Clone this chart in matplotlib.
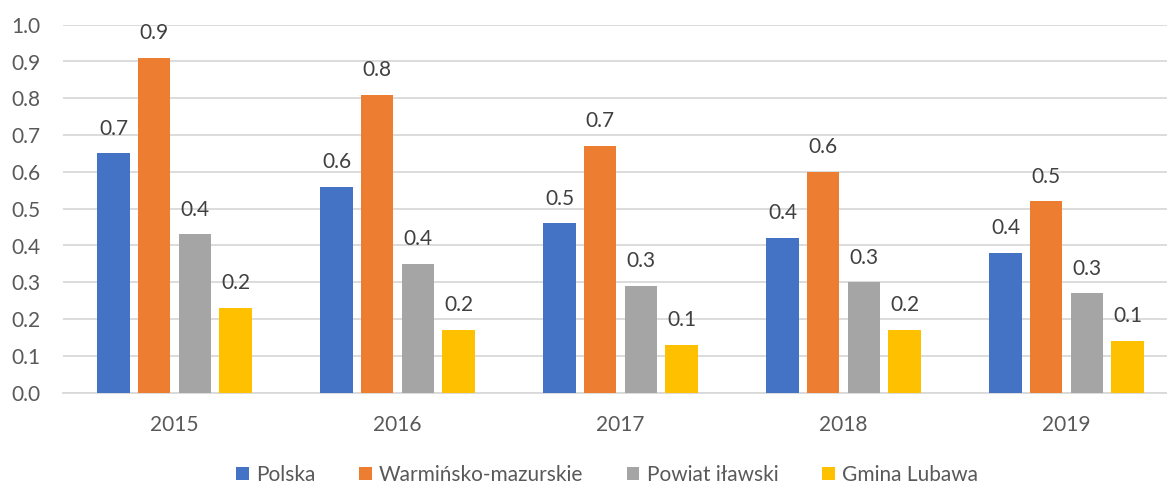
import numpy as np
import matplotlib
matplotlib.use("Agg")
from matplotlib import pyplot as plt

# data
years = ["2015", "2016", "2017", "2018", "2019"]
series_names = ["Polska", "Warmińsko-mazurskie", "Powiat iławski", "Gmina Lubawa"]
polska = [0.65, 0.56, 0.46, 0.42, 0.38]
warminsko = [0.91, 0.81, 0.67, 0.60, 0.52]
powiat = [0.43, 0.35, 0.29, 0.30, 0.27]
gmina = [0.23, 0.17, 0.13, 0.17, 0.14]
# labels as shown on the chart (rounded to one decimal)
polska_lbl = ["0.7", "0.6", "0.5", "0.4", "0.4"]
warminsko_lbl = ["0.9", "0.8", "0.7", "0.6", "0.5"]
powiat_lbl = ["0.4", "0.4", "0.3", "0.3", "0.3"]
gmina_lbl = ["0.2", "0.2", "0.1", "0.2", "0.1"]

colors = ["#4472C4", "#ED7D31", "#A5A5A5", "#FFC000"]
text_col = "#595959"
grid_col = "#D9D9D9"
fs = 15

plt.rcParams['font.family'] = ['Lato', 'DejaVu Sans']

W, H = 1167, 486
fig = plt.figure(figsize=(W / 100, H / 100), dpi=100)
ax = fig.add_axes([63 / W, (H - 392.7) / H, 1115 / W, 368 / H])

x = np.arange(len(years))
width = 0.145
step = 0.1825
all_vals = [polska, warminsko, powiat, gmina]
all_lbls = [polska_lbl, warminsko_lbl, powiat_lbl, gmina_lbl]

for i, (vals, lbls) in enumerate(zip(all_vals, all_lbls)):
    pos = x + (i - 1.5) * step
    ax.bar(pos, vals, width, color=colors[i], label=series_names[i], zorder=3)
    for px, v, t in zip(pos, vals, lbls):
        ax.annotate(t, (px, v), xytext=(0, 13.5), textcoords='offset points',
                    ha='center', va='baseline', fontsize=fs, color='#404040')

ax.set_xlim(-0.5, 4.5)
ax.set_ylim(0, 1.0)
ax.set_yticks(np.arange(0, 1.01, 0.1))
ax.set_yticklabels([f"{v:.1f}" for v in np.arange(0, 1.01, 0.1)])
ax.set_xticks(x)
ax.set_xticklabels(years)
ax.grid(axis='y', color=grid_col, linewidth=1.3, zorder=0)
for s in ['top', 'right', 'left']:
    ax.spines[s].set_visible(False)
ax.spines['bottom'].set_color(grid_col)
ax.spines['bottom'].set_linewidth(1.3)
ax.tick_params(axis='y', length=0, pad=16, labelsize=fs, labelcolor=text_col)
ax.tick_params(axis='x', length=0, pad=16, labelsize=fs, labelcolor=text_col)

fig.legend(loc='center', bbox_to_anchor=(607 / W, 1 - 475 / H), ncol=4,
           frameon=False, fontsize=fs, handlelength=0.6, handleheight=0.6,
           handletextpad=0.35, columnspacing=2.1, labelcolor=text_col,
           borderpad=0)

fig.savefig("out.png", dpi=100)
